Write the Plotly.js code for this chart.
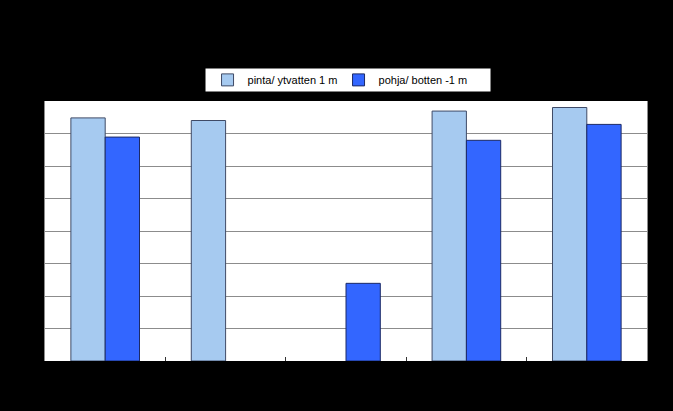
<!DOCTYPE html>
<html>
<head>
<meta charset="utf-8">
<script src="https://cdn.plot.ly/plotly-3.0.1.min.js"></script>
<style>
  html, body { margin: 0; padding: 0; background: #000; }
  #chart { width: 673px; height: 411px; }
</style>
</head>
<body>
<div id="chart"></div>
<script>
// values (gridline units)
const sites = ["1", "2", "3", "4", "5"];
const surface = [7.48, 7.40, null, 7.69, 7.80];
const bottom = [6.89, null, 2.39, 6.79, 7.28];

const surfaceTrace = {
    type: "bar",
    name: "pinta/ ytvatten 1 m",
    x: sites,
    y: surface,
    marker: { color: "#A6CAF0", line: { color: "#3f4a66", width: 1 } }
};
const bottomTrace = {
    type: "bar",
    name: "pohja/ botten -1 m",
    x: sites,
    y: bottom,
    marker: { color: "#3366FF", line: { color: "#1c2a66", width: 1 } }
};

const layout = {
    width: 673,
    height: 411,
    paper_bgcolor: "#000",
    plot_bgcolor: "#fff",
    margin: { t: 101, r: 26, l: 45, b: 50 },
    barmode: "group",
    bargap: 0.43,
    bargroupgap: 0,
    font: { family: "Liberation Sans, Arial, sans-serif", size: 11, color: "#000" },
    showlegend: true,
    legend: {
        orientation: "h",
        x: 0.27, xanchor: "left",
        y: 1.137, yanchor: "top",
        bgcolor: "rgba(0,0,0,0)",
        borderwidth: 0,
        font: { size: 11, color: "#000" },
        itemwidth: 30,
        entrywidth: 86,
        traceorder: "normal"
    },
    // white legend box
    shapes: [{
        type: "rect", xref: "paper", yref: "paper",
        x0: 0.2658, x1: 0.7409, y0: 1.0346, y1: 1.1269,
        fillcolor: "#fff", line: { color: "#000", width: 1 }
    }],
    xaxis: {
        type: "category",
        showgrid: false,
        tickson: "boundaries",
        ticks: "inside",
        ticklen: 4,
        tickcolor: "#333",
        showline: true,
        linecolor: "#000",
        mirror: false,
        tickfont: { color: "#000" },
        fixedrange: true
    },
    yaxis: {
        range: [0, 8],
        dtick: 1,
        showgrid: true,
        gridcolor: "#8c8c8c",
        gridwidth: 1,
        zeroline: false,
        showline: true,
        linecolor: "#8c8c8c",
        mirror: true,
        ticks: "outside",
        tickcolor: "#000",
        tickfont: { color: "#000" },
        fixedrange: true
    }
};

Plotly.newPlot("chart", [surfaceTrace, bottomTrace], layout, { displayModeBar: false, staticPlot: true });
</script>
</body>
</html>
